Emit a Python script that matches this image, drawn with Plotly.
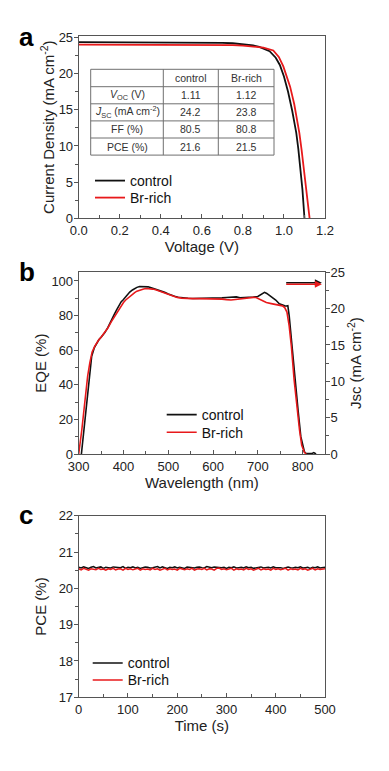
import plotly.graph_objects as go

# ---------------- data ----------------
# Panel a: J-V curves
v_control = [0, 0.1, 0.2, 0.3, 0.4, 0.5, 0.6, 0.7, 0.75, 0.8, 0.85, 0.88, 0.9, 0.93, 0.96, 0.98, 1.0, 1.013, 1.02, 1.04, 1.046, 1.06, 1.07, 1.08, 1.086, 1.09, 1.1]
j_control = [24.35, 24.35, 24.34, 24.34, 24.33, 24.32, 24.3, 24.25, 24.2, 24.1, 23.9, 23.7, 23.5, 23.1, 22.2, 21.2, 19.6, 18.3, 17.5, 14.9, 14.1, 11.8, 9.6, 7.1, 5.3, 4.0, 0.0]
v_brrich = [0, 0.1, 0.2, 0.3, 0.4, 0.5, 0.6, 0.7, 0.75, 0.8, 0.85, 0.9, 0.948, 0.975, 0.997, 1.015, 1.03, 1.05, 1.062, 1.075, 1.086, 1.095, 1.103, 1.112, 1.12, 1.125]
j_brrich = [24.0, 24.0, 23.99, 23.99, 23.98, 23.98, 23.97, 23.95, 23.93, 23.88, 23.78, 23.6, 23.2, 22.3, 21.0, 19.6, 18.2, 15.8, 14.1, 11.8, 9.45, 7.3, 5.3, 2.8, 0.8, 0.0]

# Table in panel a
table_header = ["", "control", "Br-rich"]
table_rows = ["<i>V</i><sub>OC</sub> (V)", "<i>J</i><sub>SC</sub> (mA cm<sup>-2</sup>)", "FF (%)", "PCE (%)"]
table_control = ["1.11", "24.2", "80.5", "21.6"]
table_brrich = ["1.12", "23.8", "80.8", "21.5"]

# Panel b: EQE spectra
wl_control = [306, 310, 315, 318, 322, 326, 329, 335, 340, 345, 350, 358, 365, 373, 380, 385, 390, 395, 399, 405, 414, 420, 425, 430, 436, 445, 455, 462, 470, 478, 485, 492, 500, 507, 514, 522, 530, 544, 555, 570, 581, 590, 600, 610, 620, 630, 640, 652, 660, 670, 680, 690, 700, 706, 710, 715, 720, 730, 740, 748, 755, 760, 764, 767, 770, 774, 780, 785, 790, 796, 800, 804, 808, 815, 820, 825, 830]
eqe_control = [0, 10, 22, 29, 40, 50, 56.5, 61.5, 64.2, 66, 67.5, 70, 73, 77.8, 81, 83.5, 86, 88, 89, 91, 93.6, 94.8, 95.6, 96.3, 96.8, 96.9, 96.6, 96.1, 95.5, 94.8, 94.2, 93.4, 92.5, 91.7, 91.1, 90.6, 90.3, 90.0, 89.9, 89.9, 90.0, 90.0, 90.2, 90.3, 90.2, 90.4, 90.5, 90.8, 90.3, 90.3, 90.5, 90.7, 91.0, 92.0, 92.8, 93.4, 92.8, 91.0, 89.0, 86.8, 86.0, 85.6, 85.5, 85.7, 80, 68, 52, 39, 25, 10, 5, 1.3, 0.3, 0.4, 0.2, 0.8, 0]
wl_brrich = [300, 303, 307, 312, 316, 320, 325, 330, 336, 340, 345, 350, 358, 365, 373, 380, 385, 390, 395, 400, 405, 414, 420, 425, 430, 436, 445, 451, 458, 465, 472, 480, 488, 495, 502, 510, 520, 530, 540, 555, 570, 585, 600, 610, 620, 630, 640, 650, 660, 670, 680, 690, 696, 702, 708, 714, 719, 730, 740, 748, 755, 760, 765, 770, 775, 781, 787, 793, 798, 804, 808]
eqe_brrich = [0, 5, 14, 26, 36, 45, 53, 59, 62.3, 64.2, 66, 67.5, 70, 72.8, 76.5, 79.5, 81.5, 83.8, 86, 87.5, 89, 91.2, 92.4, 93.3, 94.1, 94.8, 95.4, 95.6, 95.6, 95.3, 94.9, 94.2, 93.5, 92.8, 92.0, 91.2, 90.5, 90.1, 89.9, 89.8, 89.8, 89.8, 89.9, 89.8, 89.5, 89.2, 89.0, 89.3, 89.7, 90.0, 90.3, 90.5, 90.4, 89.6, 88.6, 88.0, 87.5, 86.9, 86.4, 86.0, 85.6, 84.6, 82.0, 74, 62, 43, 28, 14, 5, 1.0, 0]
# integrated Jsc arrows (right axis)
jsc_arrow = [23.57, 23.35]
arrow_wl = [760, 843]

# Panel c: stabilized PCE
time_s = list(range(0, 505, 5))
pce_control = [20.58, 20.56, 20.59, 20.57, 20.55, 20.58, 20.60, 20.56, 20.57, 20.59,
               20.55, 20.58, 20.57, 20.56, 20.59, 20.58, 20.56, 20.57, 20.60, 20.55,
               20.58, 20.57, 20.59, 20.56, 20.58, 20.55, 20.57, 20.59, 20.58, 20.56,
               20.57, 20.58, 20.60, 20.56, 20.59, 20.57, 20.55, 20.58, 20.57, 20.59,
               20.56, 20.58, 20.57, 20.55, 20.59, 20.58, 20.57, 20.56, 20.58, 20.59,
               20.57, 20.56, 20.60, 20.58, 20.57, 20.59, 20.58, 20.56, 20.57, 20.58,
               20.55, 20.58, 20.57, 20.59, 20.56, 20.57, 20.58, 20.56, 20.59, 20.57,
               20.58, 20.55, 20.57, 20.58, 20.59, 20.56, 20.57, 20.58, 20.56, 20.59,
               20.57, 20.58, 20.57, 20.55, 20.58, 20.59, 20.57, 20.56, 20.58, 20.57,
               20.59, 20.56, 20.57, 20.58, 20.55, 20.58, 20.57, 20.59, 20.56, 20.57, 20.58]
pce_brrich = [20.54, 20.51, 20.55, 20.52, 20.50, 20.54, 20.53, 20.51, 20.55, 20.52,
              20.53, 20.50, 20.54, 20.52, 20.55, 20.51, 20.53, 20.54, 20.50, 20.55,
              20.52, 20.54, 20.51, 20.53, 20.55, 20.50, 20.54, 20.52, 20.53, 20.51,
              20.55, 20.52, 20.54, 20.50, 20.53, 20.55, 20.51, 20.54, 20.52, 20.53,
              20.50, 20.55, 20.53, 20.51, 20.54, 20.52, 20.55, 20.50, 20.53, 20.54,
              20.52, 20.55, 20.51, 20.54, 20.53, 20.50, 20.55, 20.56, 20.52, 20.54,
              20.51, 20.53, 20.55, 20.50, 20.54, 20.52, 20.53, 20.51, 20.55, 20.52,
              20.54, 20.50, 20.53, 20.55, 20.51, 20.54, 20.52, 20.53, 20.50, 20.55,
              20.52, 20.54, 20.51, 20.53, 20.55, 20.50, 20.54, 20.52, 20.53, 20.51,
              20.55, 20.52, 20.54, 20.50, 20.53, 20.55, 20.51, 20.54, 20.52, 20.53, 20.54]

# ---------------- style ----------------
W, H = 389, 771
FONT = "Liberation Sans, Arial, sans-serif"
BLACK = "#111111"
RED = "#e8191b"
AX = "#555555"


def px_x(p):
    return p / W


def px_y(p):
    return 1 - p / H


fig = go.Figure()

# legend placement (pixel of legend line start, pixel of text centre)
legend_pos = {
    "legend": (95, 181), "legend2": (95, 198),
    "legend3": (166.7, 415), "legend4": (166.7, 432.7),
    "legend5": (92.7, 663.3), "legend6": (92.7, 680.3),
}

# Panel a
fig.add_trace(go.Scatter(x=v_control, y=j_control, mode="lines", name="control",
                         line=dict(color=BLACK, width=1.8), xaxis="x", yaxis="y", legend="legend"))
fig.add_trace(go.Scatter(x=v_brrich, y=j_brrich, mode="lines", name="Br-rich",
                         line=dict(color=RED, width=1.8), xaxis="x", yaxis="y", legend="legend2"))
# Panel b
fig.add_trace(go.Scatter(x=wl_control, y=eqe_control, mode="lines", name="control",
                         line=dict(color=BLACK, width=1.6), xaxis="x2", yaxis="y2", legend="legend3"))
fig.add_trace(go.Scatter(x=wl_brrich, y=eqe_brrich, mode="lines", name="Br-rich",
                         line=dict(color=RED, width=1.6), xaxis="x2", yaxis="y2", legend="legend4"))
# Panel c
fig.add_trace(go.Scatter(x=time_s, y=pce_control, mode="lines", name="control",
                         line=dict(color=BLACK, width=1.5), xaxis="x3", yaxis="y4", legend="legend5"))
fig.add_trace(go.Scatter(x=time_s, y=pce_brrich, mode="lines", name="Br-rich",
                         line=dict(color=RED, width=1.5), xaxis="x3", yaxis="y4", legend="legend6"))

xdom = [px_x(78.7), px_x(325)]
tickfont = dict(family=FONT, size=13, color="#222222")
titlefont = dict(family=FONT, size=15, color="#222222")


def axis_common(**kw):
    d = dict(showline=True, linecolor=AX, linewidth=1, mirror=True, ticks="outside",
             ticklen=4, tickwidth=1, tickcolor=AX, showgrid=False, zeroline=False,
             tickfont=tickfont, automargin=False, fixedrange=True)
    d.update(kw)
    return d


minor_out = dict(ticks="outside", ticklen=3, tickwidth=1, tickcolor=AX, showgrid=False)
minor_in = dict(ticks="inside", ticklen=3, tickwidth=1, tickcolor=AX, showgrid=False)


def xaxis_def(**kw):
    return axis_common(ticks="inside", ticklen=4, **kw)


def yaxis_def(**kw):
    return axis_common(ticklabelstandoff=-2, **kw)


layout_legends = {}
for key, (lx, ly) in legend_pos.items():
    layout_legends[key] = dict(x=px_x(lx - 5), y=px_y(ly - 16), xanchor="left", yanchor="top",
                               bgcolor="rgba(0,0,0,0)", font=dict(family=FONT, size=14, color="#111111"))

fig.update_layout(
    width=W, height=H, margin=dict(l=0, r=0, t=0, b=0),
    paper_bgcolor="white", plot_bgcolor="white",
    font=dict(family=FONT, color="#222222"),
    xaxis=xaxis_def(domain=xdom, anchor="y", range=[0, 1.2], dtick=0.2, tickformat=".1f",
                    minor=dict(dtick=0.1, **minor_in),
                    title=dict(text="Voltage (V)", font=titlefont, standoff=1)),
    yaxis=yaxis_def(domain=[px_y(218.3), px_y(36)], anchor="x", range=[0, 25.2], dtick=5,
                    minor=dict(dtick=2.5, **minor_out),
                    title=dict(text="Current Density (mA cm<sup>-2</sup>)", font=titlefont, standoff=0)),
    xaxis2=xaxis_def(domain=xdom, anchor="y2", range=[300, 850], dtick=100,
                     minor=dict(dtick=50, **minor_in),
                     title=dict(text="Wavelength (nm)", font=titlefont, standoff=1)),
    yaxis2=yaxis_def(domain=[px_y(454), px_y(272.3)], anchor="x2", range=[0, 105], dtick=20,
                     minor=dict(dtick=10, **minor_out),
                     title=dict(text="EQE (%)", font=titlefont, standoff=0.5)),
    yaxis3=yaxis_def(overlaying="y2", anchor="x2", side="right", range=[0, 25], dtick=5,
                     mirror=False, minor=dict(dtick=2.5, **minor_out),
                     title=dict(text="Jsc (mA cm<sup>-2</sup>)", font=titlefont, standoff=0)),
    xaxis3=xaxis_def(domain=xdom, anchor="y4", range=[0, 500], dtick=100,
                     minor=dict(dtick=50, **minor_in),
                     title=dict(text="Time (s)", font=titlefont, standoff=1)),
    yaxis4=yaxis_def(domain=[px_y(697.3), px_y(515.7)], anchor="x3", range=[17, 22], dtick=1,
                     minor=dict(dtick=0.5, **minor_out),
                     title=dict(text="PCE (%)", font=titlefont, standoff=7.5)),
    showlegend=True,
    **layout_legends,
)

# Table (panel a) drawn with shapes and text
col_w = [72.6, 55, 55.7]
header_h = 17.4
row_h = 17.1
tx0, ty0 = 90.7, 69.3
columns = [[table_header[0]] + table_rows, [table_header[1]] + table_control, [table_header[2]] + table_brrich]
n_rows = len(table_rows) + 1
row_tops = [ty0] + [ty0 + header_h + i * row_h for i in range(n_rows)]
col_lefts = [tx0]
for w in col_w:
    col_lefts.append(col_lefts[-1] + w)
LINE = dict(color="#707070", width=1)
fig.add_shape(type="rect", xref="paper", yref="paper", x0=px_x(col_lefts[0]), x1=px_x(col_lefts[-1]),
              y0=px_y(row_tops[-1]), y1=px_y(row_tops[0]), fillcolor="white", line=LINE, layer="above")
for cx in col_lefts[1:-1]:
    fig.add_shape(type="line", xref="paper", yref="paper", x0=px_x(cx), x1=px_x(cx),
                  y0=px_y(row_tops[-1]), y1=px_y(row_tops[0]), line=LINE, layer="above")
for ry in row_tops[1:-1]:
    fig.add_shape(type="line", xref="paper", yref="paper", x0=px_x(col_lefts[0]), x1=px_x(col_lefts[-1]),
                  y0=px_y(ry), y1=px_y(ry), line=LINE, layer="above")
for ci, col in enumerate(columns):
    cx = (col_lefts[ci] + col_lefts[ci + 1]) / 2
    for ri, txt in enumerate(col):
        if not txt:
            continue
        cy = (row_tops[ri] + row_tops[ri + 1]) / 2
        fig.add_annotation(text=txt, x=px_x(cx), y=px_y(cy), xref="paper", yref="paper",
                           xanchor="center", yanchor="middle", showarrow=False,
                           font=dict(family=FONT, size=10.5, color="#333333"))

# Arrows pointing to the right axis
for val, col in zip(jsc_arrow, [BLACK, RED]):
    fig.add_annotation(x=arrow_wl[1], y=val, ax=arrow_wl[0], ay=val, xref="x2", yref="y3",
                       axref="x2", ayref="y3", showarrow=True, arrowhead=2, arrowsize=1,
                       arrowwidth=1.4, arrowcolor=col, text="")

# Panel letters
for letter, ypix in [("a", 37), ("b", 272), ("c", 515)]:
    fig.add_annotation(text="<b>%s</b>" % letter, x=px_x(17), y=px_y(ypix), xref="paper", yref="paper",
                       xanchor="left", yanchor="middle", showarrow=False,
                       font=dict(family=FONT, size=26, color="#000000"))

fig.write_html("out.html", config={"displayModeBar": False},
               post_script="document.body.style.margin='0px';document.body.style.overflow='hidden';")
